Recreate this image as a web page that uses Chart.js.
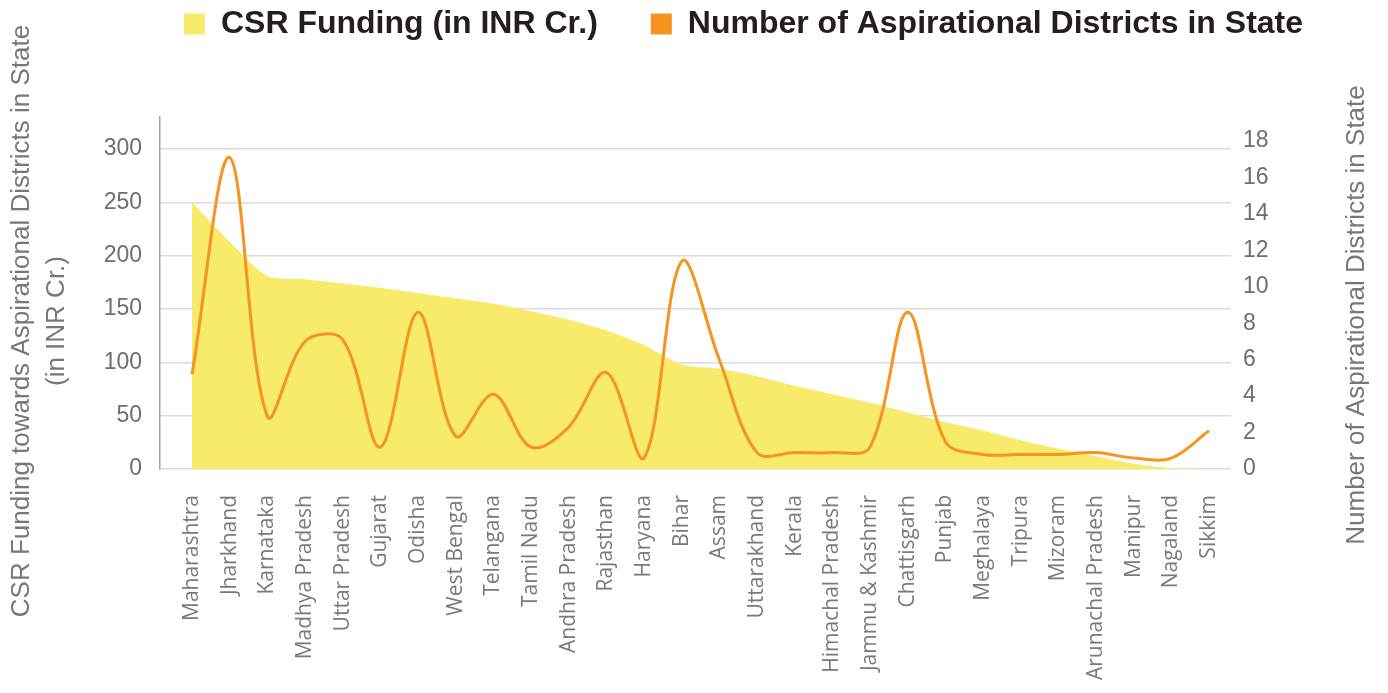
<!DOCTYPE html>
<html><head><meta charset="utf-8">
<script src="https://cdn.jsdelivr.net/npm/chart.js@4"></script>
<style>html,body{margin:0;padding:0;background:#fff;overflow:hidden}</style>
</head><body>
<canvas id="c" width="1388" height="693"></canvas>
<script>
const categories = ["Maharashtra","Jharkhand","Karnataka","Madhya Pradesh","Uttar Pradesh","Gujarat","Odisha","West Bengal","Telangana","Tamil Nadu","Andhra Pradesh","Rajasthan","Haryana","Bihar","Assam","Uttarakhand","Kerala","Himachal Pradesh","Jammu & Kashmir","Chattisgarh","Punjab","Meghalaya","Tripura","Mizoram","Arunachal Pradesh","Manipur","Nagaland","Sikkim"];
const csrFunding = [250, 213, 181, 178, 174, 170, 165, 160, 155, 148, 140, 130, 116, 98, 94, 87, 78, 70, 62, 53, 44, 36, 27, 19, 12, 5, 1, 0];
const districts = [5.2, 17.1, 2.9, 7.0, 7.1, 1.2, 8.6, 1.8, 4.1, 1.2, 2.3, 5.3, 0.6, 11.4, 6.0, 0.9, 0.9, 0.9, 1.2, 8.6, 1.5, 0.8, 0.8, 0.8, 0.9, 0.6, 0.6, 2.1];
const leftTicks = [0, 50, 100, 150, 200, 250, 300];
const rightTicks = [0, 2, 4, 6, 8, 10, 12, 14, 16, 18];
const legendLabels = ["CSR Funding (in INR Cr.)", "Number of Aspirational Districts in State"];
const leftTitle = ["CSR Funding towards Aspirational Districts in State", "(in INR Cr.)"];
const rightTitle = "Number of Aspirational Districts in State";

const YELLOW = '#F8EB6B', ORANGE = '#F7931E';
const tickFont = {family: '"Liberation Sans", Arial, sans-serif', size: 23};

const titlesPlugin = {
  id: 'axisTitles',
  beforeLayout(chart) {
    const lg = chart.legend;
    if (lg && !lg._fixedH) {
      const orig = lg.fit.bind(lg);
      lg.fit = function() { orig(); this.height = 162; };
      lg._fixedH = true;
    }
  },
  afterDraw(chart) {
    const ctx = chart.ctx;
    ctx.save();
    ctx.fillStyle = '#77787B';
    ctx.font = '26px "Liberation Sans", Arial, sans-serif';
    ctx.textAlign = 'center';
    ctx.textBaseline = 'middle';
    ctx.translate(22, 321);
    ctx.rotate(-Math.PI / 2);
    ctx.fillText(leftTitle[0], 0, 0);
    ctx.fillText(leftTitle[1], 0, 35);
    ctx.restore();
    ctx.save();
    ctx.fillStyle = '#77787B';
    ctx.font = '26px "Liberation Sans", Arial, sans-serif';
    ctx.textAlign = 'center';
    ctx.textBaseline = 'middle';
    ctx.translate(1357, 315);
    ctx.rotate(-Math.PI / 2);
    ctx.fillText(rightTitle, 0, 0);
    ctx.restore();
  }
};

new Chart(document.getElementById('c'), {
  data: {
    datasets: [
      {
        type: 'line', label: legendLabels[0],
        data: categories.map((c, i) => ({x: i, y: csrFunding[i]})),
        backgroundColor: YELLOW, borderColor: YELLOW, borderWidth: 0,
        fill: 'origin', pointRadius: 0, tension: 0.25, yAxisID: 'y', order: 2
      },
      {
        type: 'line', label: legendLabels[1],
        data: categories.map((c, i) => ({x: i, y: districts[i]})),
        backgroundColor: ORANGE, borderColor: ORANGE, borderWidth: 3,
        fill: false, pointRadius: 0, tension: 0.35, yAxisID: 'y2', order: 1
      }
    ]
  },
  options: {
    responsive: false, devicePixelRatio: 1, animation: false,
    layout: {padding: {top: -45, left: 100, right: 1, bottom: 0}},
    plugins: {
      tooltip: {enabled: false},
      legend: {
        position: 'top', align: 'center',
        labels: {
          boxWidth: 21, boxHeight: 21, padding: 53, color: '#231F20',
          font: {family: '"Liberation Sans", Arial, sans-serif', size: 32, weight: 'bold'},
          sort: (a, b) => a.datasetIndex - b.datasetIndex,
          generateLabels(chart) {
            const items = Chart.defaults.plugins.legend.labels.generateLabels(chart);
            items.forEach(it => { it.lineWidth = 0; it.strokeStyle = 'rgba(0,0,0,0)'; });
            return items;
          }
        }
      }
    },
    scales: {
      x: {
        type: 'linear', min: -0.85, max: 27.585,
        afterBuildTicks: s => { s.ticks = categories.map((c, i) => ({value: i})); },
        afterFit: s => { s.height = 224; },
        grid: {display: false, drawTicks: false},
        border: {display: false},
        ticks: {
          autoSkip: false, minRotation: 90, maxRotation: 90, padding: 26,
          color: '#7A7A7A', font: {family: '"Open Sans", sans-serif', size: 21},
          callback: (v, i) => categories[i]
        }
      },
      y: {
        type: 'linear', position: 'left', min: 0, max: 330,
        afterBuildTicks: s => { s.ticks = leftTicks.map(v => ({value: v})); },
        afterFit: s => { s.width = 60; },
        grid: {color: '#DCDCDC', lineWidth: 1.5, drawTicks: false},
        border: {display: true, color: '#A5A5A5', width: 1.5},
        ticks: {padding: 18, color: '#6D6E71', font: tickFont}
      },
      y2: {
        type: 'linear', position: 'right', min: 0, max: 19.32,
        afterBuildTicks: s => { s.ticks = rightTicks.map(v => ({value: v})); },
        afterFit: s => { s.width = 156; },
        grid: {display: false, drawTicks: false},
        border: {display: false},
        ticks: {padding: 12, color: '#6D6E71', font: tickFont}
      }
    }
  },
  plugins: [titlesPlugin]
});
</script>
</body></html>
